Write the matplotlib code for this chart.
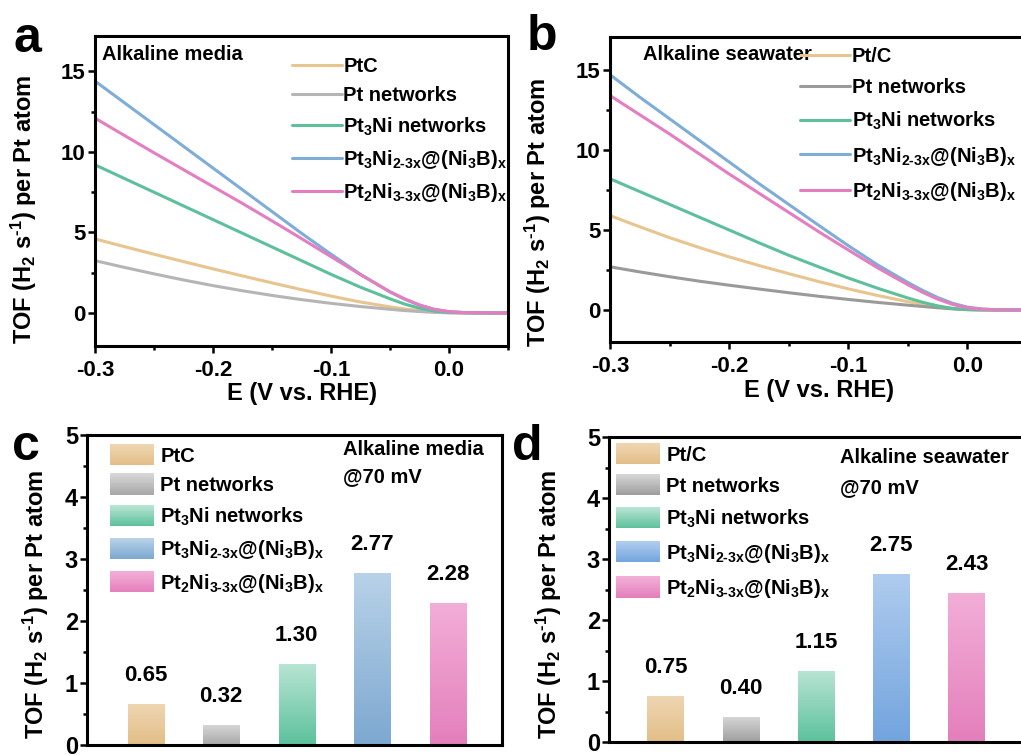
import numpy as np
import matplotlib
matplotlib.use('Agg')
import matplotlib.pyplot as plt
from matplotlib.colors import LinearSegmentedColormap, to_rgb
from matplotlib.patches import Rectangle
from matplotlib.legend_handler import HandlerBase
from matplotlib.ticker import MultipleLocator

plt.rcParams['font.family'] = ['Liberation Sans', 'DejaVu Sans']
plt.rcParams['font.weight'] = 'bold'
plt.rcParams['axes.unicode_minus'] = False
plt.rcParams['mathtext.fontset'] = 'custom'
plt.rcParams['mathtext.rm'] = 'Liberation Sans:bold'
plt.rcParams['mathtext.bf'] = 'Liberation Sans:bold'
plt.rcParams['mathtext.it'] = 'Liberation Sans:bold'
plt.rcParams['mathtext.sf'] = 'Liberation Sans:bold'
plt.rcParams['mathtext.default'] = 'rm'

# ---------------- data ----------------
E = [-0.300, -0.275, -0.250, -0.225, -0.200, -0.175, -0.150, -0.125,
     -0.100, -0.075, -0.050, -0.0375, -0.025, -0.0125, 0.000, 0.0125, 0.025, 0.050]

# panel a : alkaline media
a_PtC    = [4.60, 4.12, 3.65, 3.19, 2.74, 2.30, 1.87, 1.45, 1.05, 0.68, 0.38, 0.25, 0.15, 0.07, 0.02, 0.00, 0.00, 0.00]
a_PtNet  = [3.25, 2.83, 2.43, 2.05, 1.70, 1.38, 1.09, 0.83, 0.60, 0.40, 0.23, 0.15, 0.09, 0.04, 0.01, 0.00, 0.00, 0.00]
a_Pt3Ni  = [9.20, 8.35, 7.50, 6.65, 5.80, 4.95, 4.10, 3.25, 2.40, 1.60, 0.88, 0.55, 0.30, 0.12, 0.04, 0.01, 0.00, 0.00]
a_Pt3NiB = [14.40, 13.05, 11.70, 10.35, 9.00, 7.65, 6.30, 4.95, 3.65, 2.40, 1.30, 0.85, 0.48, 0.22, 0.08, 0.03, 0.01, 0.00]
a_Pt2NiB = [12.10, 11.02, 9.95, 8.90, 7.85, 6.80, 5.72, 4.62, 3.50, 2.38, 1.32, 0.88, 0.50, 0.23, 0.09, 0.03, 0.01, 0.00]

# panel b : alkaline seawater
b_PtC    = [5.90, 5.20, 4.52, 3.90, 3.32, 2.78, 2.27, 1.78, 1.32, 0.90, 0.52, 0.35, 0.20, 0.09, 0.03, 0.01, 0.00, 0.00]
b_PtNet  = [2.70, 2.38, 2.08, 1.80, 1.55, 1.31, 1.08, 0.86, 0.66, 0.47, 0.30, 0.22, 0.14, 0.07, 0.02, 0.00, 0.00, 0.00]
b_Pt3Ni  = [8.20, 7.40, 6.60, 5.80, 5.00, 4.20, 3.42, 2.70, 2.00, 1.35, 0.75, 0.48, 0.26, 0.10, 0.03, 0.01, 0.00, 0.00]
b_Pt3NiB = [14.70, 13.30, 11.95, 10.60, 9.25, 7.90, 6.60, 5.30, 4.02, 2.80, 1.72, 1.22, 0.78, 0.42, 0.18, 0.06, 0.02, 0.00]
b_Pt2NiB = [13.40, 12.20, 11.00, 9.75, 8.50, 7.30, 6.10, 4.90, 3.75, 2.62, 1.58, 1.10, 0.68, 0.35, 0.14, 0.05, 0.01, 0.00]

# panels c, d : TOF at 70 mV
c_values = [0.65, 0.32, 1.30, 2.77, 2.28]
d_values = [0.75, 0.40, 1.15, 2.75, 2.43]

labels_a = ['PtC', 'Pt networks', r'Pt$_3$Ni networks',
            r'Pt$_3$Ni$_{\text{2-3x}}$@(Ni$_3$B)$_\text{x}$',
            r'Pt$_2$Ni$_{\text{3-3x}}$@(Ni$_3$B)$_\text{x}$']
labels_b = ['Pt/C'] + labels_a[1:]

line_colors_a = ['#E8C48E', '#B5B5B5', '#5DC09B', '#7EADD8', '#E57EC0']
line_colors_b = ['#E8C48E', '#9A9A9A', '#5DC09B', '#7EADD8', '#E57EC0']

grad_c = [('#EED6B2', '#E3BE88'), ('#D6D6D6', '#A8A8A8'), ('#B8E4D4', '#5CC19C'),
          ('#B8D2E8', '#7DA8D0'), ('#F2AED7', '#E47FBC')]
grad_d = [('#EED6B2', '#E3BE88'), ('#D6D6D6', '#9E9E9E'), ('#B8E4D4', '#5CC19C'),
          ('#AFCCEE', '#72A4DE'), ('#F2AED7', '#E47FBC')]

W, H = 1021, 755
fig = plt.figure(figsize=(W / 100, H / 100), dpi=100)


def px_axes(l, t, r, b):
    return fig.add_axes([l / W, 1 - b / H, (r - l) / W, (b - t) / H])


ax_a = px_axes(95, 36, 508, 346)
ax_b = px_axes(610, 37, 1027, 342)
ax_c = px_axes(87, 435, 502, 745)
ax_d = px_axes(609, 437, 1023, 742)

for ax in (ax_a, ax_b, ax_c, ax_d):
    for s in ax.spines.values():
        s.set_linewidth(2.2)
    ax.tick_params(which='both', direction='out', width=1.8, top=False, right=False)
    ax.tick_params(which='major', length=5)
    ax.tick_params(which='minor', length=3)

ylab = r'TOF (H$_2$ s$^{\text{-1}}$) per Pt atom'


def line_panel(ax, series, colors, labels, title, xlim, ylim, title_x, leg_anchor, leg_spacing):
    for ys, c, lab in zip(series, colors, labels):
        ax.plot(E, ys, color=c, lw=2.2, label=lab, solid_capstyle='round', solid_joinstyle='round')
    ax.set_xlim(*xlim)
    ax.set_ylim(*ylim)
    ax.xaxis.set_minor_locator(MultipleLocator(0.05))
    ax.yaxis.set_major_locator(MultipleLocator(5))
    ax.yaxis.set_minor_locator(MultipleLocator(2.5))
    ax.set_xticks([-0.3, -0.2, -0.1, 0.0])
    ax.set_xticklabels(['-0.3', '-0.2', '-0.1', '0.0'])
    ax.tick_params(axis='both', labelsize=16, pad=2)
    ax.tick_params(axis='x', pad=5)
    ax.set_xlabel('E (V vs. RHE)', fontsize=17, fontweight='bold')
    ax.set_ylabel(ylab, fontsize=17, fontweight='bold')
    ax.text(title_x, 0.924, title, transform=ax.transAxes, fontsize=14.5,
            fontweight='bold', va='baseline', ha='left')
    ax.legend(loc='upper left', bbox_to_anchor=leg_anchor, frameon=False,
              fontsize=14.5, handlelength=2.5, handletextpad=0.05,
              labelspacing=leg_spacing, borderpad=0, borderaxespad=0)


line_panel(ax_a, [a_PtC, a_PtNet, a_Pt3Ni, a_Pt3NiB, a_Pt2NiB], line_colors_a, labels_a,
           'Alkaline media', (-0.3, 0.05), (-2.05, 17.2), 0.017, (0.477, 0.932), 0.5)
line_panel(ax_b, [b_PtC, b_PtNet, b_Pt3Ni, b_Pt3NiB, b_Pt2NiB], line_colors_b, labels_b,
           'Alkaline seawater', (-0.3, 0.05), (-2.0, 17.06), 0.079, (0.456, 0.968), 0.62)

ax_a.yaxis.set_label_coords(-(95 - 39) / 413, 0.442)
ax_b.yaxis.set_label_coords(-(610 - 553) / 417, 0.426)
ax_a.xaxis.set_label_coords(0.5, -0.115)
ax_b.xaxis.set_label_coords(0.5, -0.122)


class GradHandler(HandlerBase):
    def __init__(self, top, bot):
        super().__init__()
        self.top = np.array(to_rgb(top))
        self.bot = np.array(to_rgb(bot))

    def create_artists(self, legend, orig_handle, xdescent, ydescent, width, height, fontsize, trans):
        n = 24
        arts = []
        h = height * 1.35
        y0 = -ydescent - (h - height) / 2
        for i in range(n):
            f = i / (n - 1)
            col = self.bot * (1 - f) + self.top * f
            r = Rectangle((-xdescent, y0 + i * h / n), width, h / n + 0.3,
                          facecolor=col, edgecolor='none', transform=trans)
            arts.append(r)
        return arts


def bar_panel(ax, values, grads, labels, t1, t2, tx, ty1, ty2, leg_anchor, leg_spacing):
    xs = np.arange(1, len(values) + 1)
    bars = ax.bar(xs, values, width=0.48, color='none', edgecolor='none')
    grad = np.linspace(0, 1, 256).reshape(-1, 1)
    for b, (top, bot) in zip(bars, grads):
        cmap = LinearSegmentedColormap.from_list('g', [bot, top])
        x0, w, h = b.get_x(), b.get_width(), b.get_height()
        ax.imshow(grad, extent=[x0, x0 + w, 0, h], origin='lower', aspect='auto',
                  cmap=cmap, zorder=2)
        ax.annotate(f'{h:.2f}', (x0 + w / 2, h), xytext=(0, 17), textcoords='offset points',
                    ha='center', va='baseline', fontsize=16, fontweight='bold')
    ax.set_ylim(0, 5)
    ax.set_xticks([])
    ax.yaxis.set_major_locator(MultipleLocator(1))
    ax.yaxis.set_minor_locator(MultipleLocator(0.5))
    ax.tick_params(axis='y', labelsize=17, pad=1.5)
    ax.set_ylabel(ylab, fontsize=17, fontweight='bold')
    ax.text(tx, ty1, t1, transform=ax.transAxes, fontsize=14.5, fontweight='bold', va='baseline')
    ax.text(tx, ty2, t2, transform=ax.transAxes, fontsize=14.5, fontweight='bold', va='baseline')
    proxies = [Rectangle((0, 0), 1, 1) for _ in grads]
    hmap = {p: GradHandler(t, b) for p, (t, b) in zip(proxies, grads)}
    ax.legend(proxies, labels, handler_map=hmap, loc='upper left', bbox_to_anchor=leg_anchor,
              frameon=False, fontsize=14.5, handlelength=2.2, handleheight=0.8,
              handletextpad=0.3, labelspacing=leg_spacing, borderpad=0, borderaxespad=0)


bar_panel(ax_c, c_values, grad_c, labels_a, 'Alkaline media', '@70 mV',
          0.617, 0.935, 0.848, (0.055, 0.962), 0.52)
bar_panel(ax_d, d_values, grad_d, labels_b, 'Alkaline seawater', '@70 mV',
          0.558, 0.915, 0.816, (0.017, 0.972), 0.6)
ax_c.set_xlim(0.22, 5.72)
ax_d.set_xlim(0.25, 5.75)
ax_c.yaxis.set_label_coords(-(87 - 51) / 415, 0.452)
ax_d.yaxis.set_label_coords(-(609 - 564) / 414, 0.45)

for lt, x, y in [('a', 13, 52), ('b', 527, 50), ('c', 12, 460), ('d', 512, 460)]:
    fig.text(x / W, 1 - y / H, lt, fontsize=36, fontweight='bold', ha='left', va='baseline')

fig.savefig('out.png', dpi=100)
